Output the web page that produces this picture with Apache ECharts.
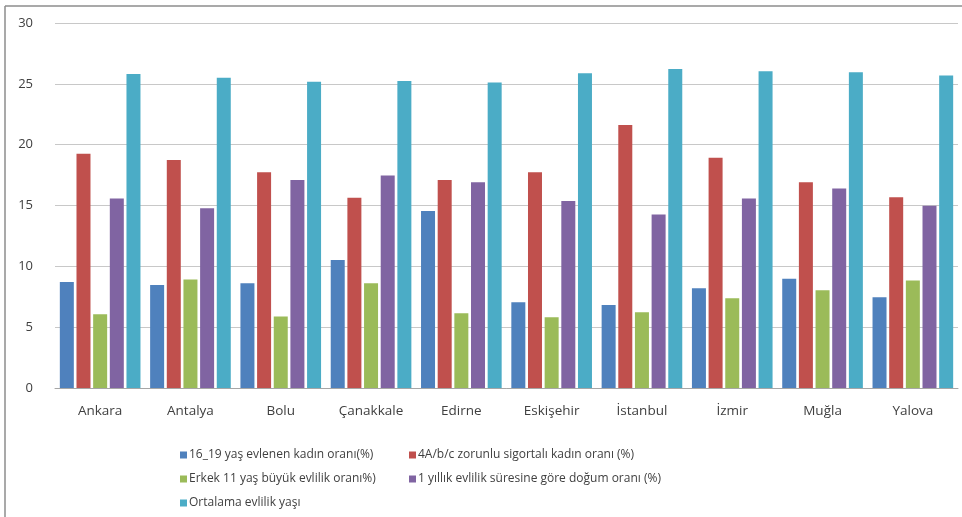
<!DOCTYPE html>
<html>
<head>
<meta charset="utf-8">
<script src="https://cdn.jsdelivr.net/npm/echarts@6/dist/echarts.min.js"></script>
<style>html,body{margin:0;padding:0;background:#fff}#c{width:962px;height:517px}</style>
</head>
<body>
<div id="c"></div>
<script>
const categories = ['Ankara','Antalya','Bolu','Çanakkale','Edirne','Eskişehir','İstanbul','İzmir','Muğla','Yalova'];
const seriesNames = [
  '16_19 yaş evlenen kadın oranı(%)',
  '4A/b/c zorunlu sigortalı kadın oranı (%)',
  'Erkek 11 yaş büyük evlilik oranı%)',
  '1 yıllık evlilik süresine göre doğum oranı (%)',
  'Ortalama evlilik yaşı'
];
const s1 = [8.72, 8.47, 8.61, 10.52, 14.54, 7.05, 6.83, 8.2, 8.97, 7.46];
const s2 = [19.25, 18.73, 17.74, 15.64, 17.09, 17.74, 21.62, 18.92, 16.92, 15.67];
const s3 = [6.07, 8.91, 5.87, 8.61, 6.15, 5.82, 6.23, 7.38, 8.04, 8.83];
const s4 = [15.58, 14.77, 17.09, 17.47, 16.92, 15.36, 14.27, 15.58, 16.4, 14.98];
const s5 = [25.8, 25.5, 25.18, 25.24, 25.1, 25.87, 26.22, 26.03, 25.95, 25.69];
const yTicks = [0, 5, 10, 15, 20, 25, 30];
const colors = ['#4f81bd', '#c0504d', '#9bbb59', '#8064a2', '#4bacc6'];

const chart = echarts.init(document.getElementById('c'));
const font = 'Open Sans, Noto Sans, sans-serif';
const allData = [s1, s2, s3, s4, s5];
const legendItem = { itemWidth: 7, itemHeight: 7, icon: 'rect', orient: 'vertical', itemGap: 12,
  textStyle: { fontFamily: font, fontSize: 12, color: '#404040', padding: [0, 0, 0, -3] } };
chart.setOption({
  animation: false,
  color: colors,
  graphic: [
    { type: 'line', shape: { x1: 5, y1: 6, x2: 962, y2: 6 }, style: { stroke: '#8c8c8c', lineWidth: 1.5 } },
    { type: 'line', shape: { x1: 5, y1: 6, x2: 5, y2: 517 }, style: { stroke: '#8c8c8c', lineWidth: 1.5 } }
  ],
  grid: { left: 55, right: 4, top: 23, bottom: 129, containLabel: false },
  legend: [
    Object.assign({ left: 175, top: 444, data: [seriesNames[0], seriesNames[2], seriesNames[4]] }, legendItem),
    Object.assign({ left: 404, top: 444, data: [seriesNames[1], seriesNames[3]] }, legendItem)
  ],
  xAxis: {
    type: 'category', data: categories,
    axisLine: { lineStyle: { color: '#a6a6a6' } },
    axisTick: { show: false },
    axisLabel: { fontFamily: font, fontSize: 13.5, color: '#404040', margin: 16 }
  },
  yAxis: {
    type: 'value', min: yTicks[0], max: yTicks[yTicks.length - 1], interval: 5,
    axisLine: { show: false }, axisTick: { show: false },
    splitLine: { lineStyle: { color: '#c8c8c8', width: 1.2 } },
    axisLabel: { fontFamily: font, fontSize: 13, color: '#404040', margin: 22 }
  },
  series: allData.map((d, i) => ({
    name: seriesNames[i], type: 'bar', data: d,
    barWidth: 14, barGap: '19%',
    itemStyle: { color: colors[i] }
  }))
});
</script>
</body>
</html>
